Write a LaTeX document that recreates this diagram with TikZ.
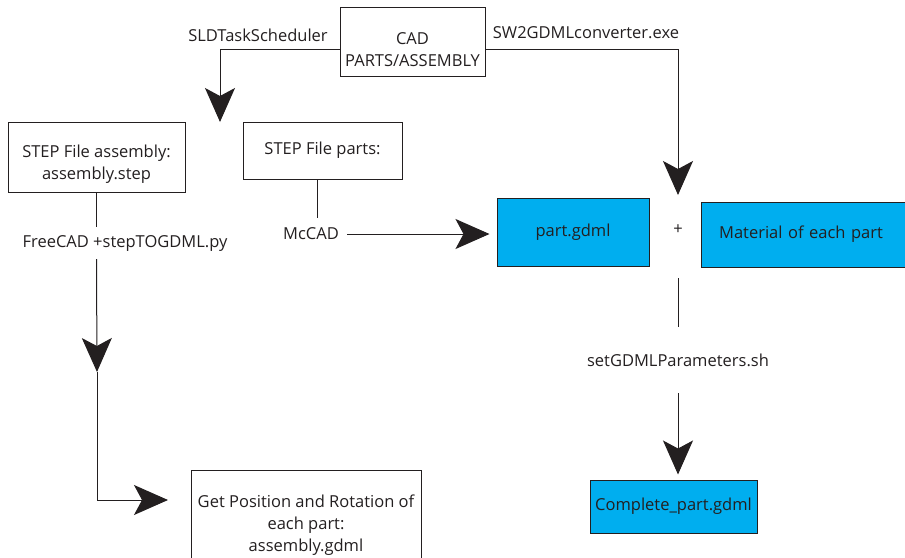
\documentclass[tikz,border=0pt]{standalone}
\usepackage{fontspec}
\setmainfont{Open Sans}
\usepackage{xcolor}
\usepackage{tikz}
\usetikzlibrary{positioning, arrows.meta}

\definecolor{ink}{HTML}{231F20}
\definecolor{gdmlblue}{HTML}{00AEEF}

\begin{document}
\begin{tikzpicture}[
            x=1pt, y=-1pt,
            box/.style={
                    draw=ink,
                    line width=1pt,
                    align=center,
                    inner sep=0pt,
                    text=ink,
                    font=\fontsize{16.5}{22}\selectfont
                },
            lowtext/.style={
                    align=center,
                    inner sep=0pt,
                    text=ink,
                    font=\fontsize{16.5}{22.5}\selectfont
                },
            filebox/.style={
                    box,
                    fill=gdmlblue
                },
            tag/.style={
                    inner sep=0pt,
                    minimum height=32pt,
                    text=ink,
                    font=\fontsize{16.5}{22}\selectfont
                },
            arrow/.style={
                    -{Stealth[length=34pt, width=30pt, inset=8pt]},
                    draw=ink,
                    line width=1pt
                }
        ]

        \useasboundingbox (0,0) rectangle (905,557);


        \node[box, minimum width=145pt, minimum height=69pt] (cad) at (412.5,41.5) {};
        \node[lowtext] (cadtext) at ([yshift=-8pt]cad.center)
        {CAD\\PARTS/ASSEMBLY};


        \node[box, minimum width=177pt, minimum height=70pt] (asm) at (96.5,157) {};
        \node[lowtext] (asmtext) at ([yshift=-7pt]asm.center)
        {STEP File assembly:\\assembly.step};


        \node[box, minimum width=159pt, minimum height=57pt] (parts) at (322.5,150.5)
        {STEP File parts:};


        \node[box, minimum width=230pt, minimum height=110pt] (pos) at (306,525)
        {Get Position and Rotation of\\each part:\\assembly.gdml};


        \node[filebox, minimum width=152pt, minimum height=68pt] (part) at (573,232)
        {part.gdml};


        \node[filebox, minimum width=220pt, minimum height=65pt, text width=197pt] (mat) at (811,234.5)
        {\hspace*{-20pt}Material of each part};


        \node[filebox, minimum width=167pt, minimum height=53pt] (full) at (673.5,506.5)
        {Complete\_part.gdml};


        \node[tag] (sld) at (258,35) {SLDTaskScheduler};
        \node[tag] (sw) at (586,33) {SW2GDMLconverter.exe};
        \node[tag] (fc) at (125,243) {FreeCAD +stepTOGDML.py};
        \node[tag] (mc) at (311,234) {McCAD};
        \node[tag] (plus) at (678,230) {+};
        \node[tag, minimum height=66pt] (sh) at (678,360) {setGDMLParameters.sh};


        \coordinate (sldtip) at (220,122);
        \coordinate (swtip) at (678,195);
        \coordinate (midtip) at (97,372);
        \coordinate (postip) at (168,500);
        \coordinate (plusout) at (678,278);


        \draw[arrow]([yshift=-7.5pt]cad.west) -| (sldtip);
        \draw[arrow]([yshift=-7.5pt]cad.east) -| (swtip);
        \draw[draw=ink, line width=1pt](asm.south) -- (asm.south |- fc.north);
        \draw[arrow](asm.south |- fc.south) -- (midtip);
        \draw[arrow](midtip) |- (postip);
        \draw[draw=ink, line width=1pt]([xshift=-5.5pt]parts.south) -- ([xshift=-5.5pt]parts.south |- mc.north);
        \draw[arrow, shorten >=7pt]([xshift=8pt]mc.east) -- (mc.east -| part.west);
        \draw[draw=ink, line width=1pt](plusout) -- (sh.north);
        \draw[arrow, shorten >=5pt](sh.south) -- (sh.south |- full.north);


    \end{tikzpicture}
\end{document}
